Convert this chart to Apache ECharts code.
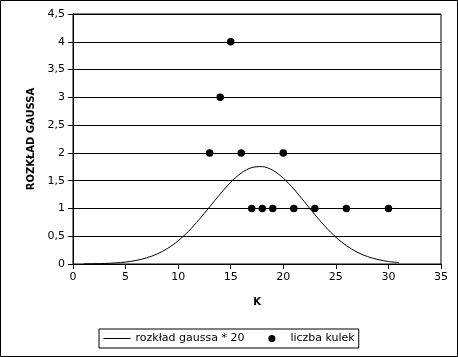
<!DOCTYPE html>
<html><head><meta charset="utf-8">
<script src="https://cdn.jsdelivr.net/npm/echarts@6/dist/echarts.min.js"></script>
<style>html,body{margin:0;padding:0;background:#fff}#c{width:458px;height:357px}</style>
</head><body><div id="c"></div>
<script>
const curveX = [1,2,3,4,5,6,7,8,9,10,11,12,13,14,15,16,17,18,19,20,21,22,23,24,25,26,27,28,29,30,31];
const curveY = [0.002,0.005,0.009,0.019,0.035,0.064,0.110,0.180,0.281,0.417,0.592,0.800,1.029,1.261,1.473,1.638,1.736,1.753,1.687,1.546,1.349,1.123,0.890,0.672,0.482,0.331,0.216,0.134,0.080,0.045,0.024];
const ballX = [13,14,15,16,17,18,19,20,21,23,26,30];
const ballY = [2,3,4,2,1,1,1,2,1,1,1,1];
const xTicks = ['0','5','10','15','20','25','30','35'];
const yTicks = ['0','0,5','1','1,5','2','2,5','3','3,5','4','4,5'];
const seriesNames = ['rozkład gaussa * 20','liczba kulek'];

const chart = echarts.init(document.getElementById('c'), null, {renderer:'canvas'});
const font = 'DejaVu Sans';
chart.setOption({
  animation:false,
  textStyle:{fontFamily:font, color:'#000'},
  graphic:[{type:'rect', shape:{x:0.5,y:0.5,width:457,height:356}, style:{fill:'none', stroke:'#000', lineWidth:1}, silent:true}],
  grid:{left:73, top:14, width:368, height:250, show:true, borderColor:'#000', borderWidth:1, backgroundColor:'transparent'},
  xAxis:{type:'value', min:0, max:35, interval:5, name:'K', nameLocation:'middle', nameGap:33,
    nameTextStyle:{fontFamily:font, fontWeight:'bold', fontSize:10, color:'#000'},
    axisLine:{lineStyle:{color:'#000', width:1}}, axisTick:{show:true, length:5, lineStyle:{color:'#000'}},
    axisLabel:{color:'#000', fontFamily:font, fontSize:11, margin:8, formatter:v=>xTicks[Math.round(v/5)]},
    splitLine:{show:false}},
  yAxis:{type:'value', min:0, max:4.5, interval:0.5, name:'ROZKŁAD GAUSSA', nameLocation:'middle', nameGap:37,
    nameTextStyle:{fontFamily:font, fontWeight:'bold', fontSize:10, color:'#000'},
    axisLine:{show:true, lineStyle:{color:'#000', width:1}}, axisTick:{show:true, length:5, lineStyle:{color:'#000'}},
    axisLabel:{color:'#000', fontFamily:font, fontSize:11, margin:8, formatter:v=>yTicks[Math.round(v*2)]},
    splitLine:{show:true, lineStyle:{color:'#000', width:1}}},
  legend:{left:99, top:329, orient:'horizontal', borderColor:'#000', borderWidth:1, padding:[4,4,4,4], itemGap:24,
    itemWidth:27, itemHeight:7, textStyle:{fontFamily:font, fontSize:11, color:'#000'},
    data:[{name:seriesNames[0], itemStyle:{color:'rgba(0,0,0,0)', borderWidth:0, opacity:0}, lineStyle:{color:'#000', width:1, opacity:1}},
          {name:seriesNames[1], icon:'circle'}]},
  series:[
    {name:seriesNames[0], type:'line', data:curveX.map((x,i)=>[x,curveY[i]]), smooth:0.3, symbol:'none',
      lineStyle:{color:'#000', width:1}, itemStyle:{color:'#000'}},
    {name:seriesNames[1], type:'scatter', data:ballX.map((x,i)=>[x,ballY[i]]), symbol:'circle', symbolSize:7.5,
      itemStyle:{color:'#000', opacity:1}}
  ]
});
</script></body></html>
